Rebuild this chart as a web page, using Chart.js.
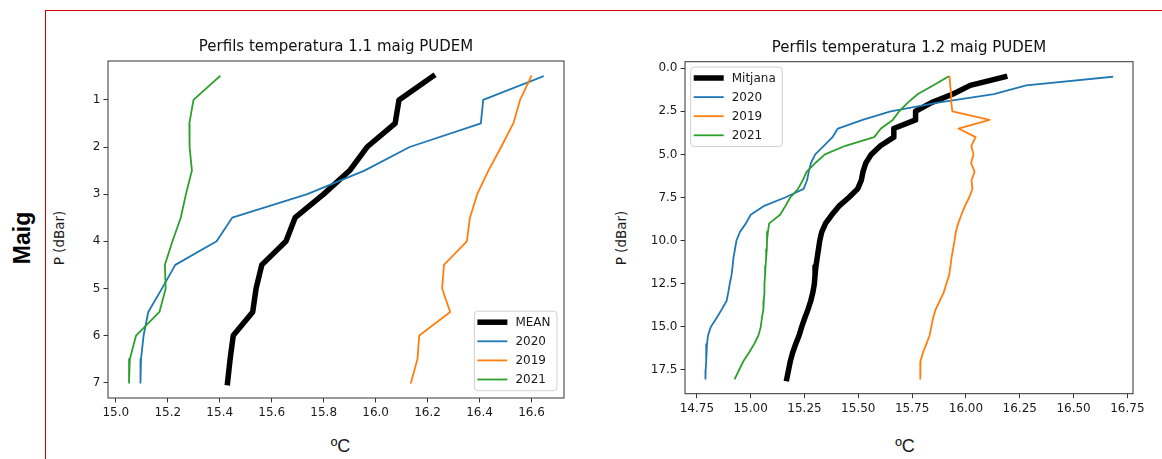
<!DOCTYPE html>
<html>
<head>
<meta charset="utf-8">
<script src="https://cdn.jsdelivr.net/npm/chart.js@4.4.1/dist/chart.umd.min.js"></script>
<style>
  html, body { margin: 0; padding: 0; background: #fff; }
  body { width: 1162px; height: 459px; position: relative; overflow: hidden; }
  .rule-h { position: absolute; left: 45px; top: 10px; width: 1117px; height: 1px; background: #cc0000; }
  .rule-v { position: absolute; left: 45px; top: 10px; width: 1px; height: 449px; background: #cc0000; }
  .lbl { position: absolute; white-space: nowrap; line-height: 1; color: #1a1a1a;
         transform: translate(-50%, -50%); }
  .rot { transform: translate(-50%, -50%) rotate(-90deg); }
  .month { font: bold 23px "Liberation Sans", Arial, sans-serif; color: #000; }
  .ylab { font: 13.5px "DejaVu Sans", sans-serif; }
  .xlab { font: 18px "Liberation Sans", Arial, sans-serif; }
  canvas { position: absolute; top: 0; }
</style>
</head>
<body>
<div class="rule-h"></div>
<div class="rule-v"></div>
<div class="lbl rot month" style="left:21.7px; top:238px;">Maig</div>
<div class="lbl rot ylab" style="left:59.3px; top:238px;">P (dBar)</div>
<div class="lbl rot ylab" style="left:620.7px; top:238px;">P (dBar)</div>
<div class="lbl xlab" style="left:340.5px; top:446px;">ºC</div>
<div class="lbl xlab" style="left:905px; top:446px;">ºC</div>
<canvas id="st11" width="554" height="459" style="left:46px;"></canvas>
<canvas id="st12" width="562" height="459" style="left:600px;"></canvas>
<script>
// ---- Station 1.1 (May) : pressure levels and temperature profiles ----
const title11 = 'Perfils temperatura 1.1 maig PUDEM';
const pressure11 = [0.5, 1, 1.5, 2, 2.5, 3, 3.5, 4, 4.5, 5, 5.5, 6, 6.5, 7];
const mean11 = [16.22, 16.09, 16.075, 15.967, 15.90, 15.80, 15.69, 15.655, 15.562, 15.54, 15.527, 15.452, 15.44, 15.43];
const t2020_11 = [16.644, 16.414, 16.405, 16.131, 15.957, 15.737, 15.448, 15.388, 15.229, 15.178, 15.125, 15.107, 15.097, 15.095];
const t2019_11 = [16.599, 16.556, 16.530, 16.483, 16.434, 16.391, 16.363, 16.351, 16.263, 16.256, 16.287, 16.168, 16.161, 16.136];
const t2021_11 = [15.400, 15.299, 15.283, 15.284, 15.293, 15.270, 15.250, 15.218, 15.189, 15.192, 15.168, 15.078, 15.054, 15.051];
const xTicks11 = [15.0, 15.2, 15.4, 15.6, 15.8, 16.0, 16.2, 16.4, 16.6];
const yTicks11 = [1, 2, 3, 4, 5, 6, 7];

// ---- Station 1.2 (May) ----
const title12 = 'Perfils temperatura 1.2 maig PUDEM';
const pressure12 = [0.5, 1, 1.5, 2, 2.5, 3, 3.5, 4, 4.5, 5, 5.5, 6, 6.5, 7, 7.5, 8, 8.5, 9,
                    9.5, 10, 10.5, 11, 11.5, 12, 12.5, 13, 13.5, 14, 14.5, 15, 15.5, 16, 16.5, 17, 17.5, 18];
const mean12 = [16.18, 16.02, 15.94, 15.84, 15.766, 15.766, 15.665, 15.665, 15.603, 15.56, 15.535, 15.522,
                15.514, 15.497, 15.456, 15.41, 15.377, 15.348, 15.33, 15.321, 15.315, 15.309, 15.303, 15.299,
                15.296, 15.289, 15.279, 15.266, 15.251, 15.237, 15.225, 15.209, 15.195, 15.184, 15.176, 15.168];
const t2020_12 = [16.68, 16.28, 16.13, 15.87, 15.65, 15.52, 15.405, 15.38, 15.34, 15.30, 15.28, 15.27,
                  15.262, 15.246, 15.16, 15.06, 15.00, 14.978, 14.95, 14.934, 14.927, 14.92, 14.916, 14.911,
                  14.903, 14.896, 14.888, 14.865, 14.841, 14.815, 14.802, 14.797, 14.794, 14.793, 14.791, 14.79];
const t2019_12 = [15.924, 15.927, 15.931, 15.932, 15.937, 16.11, 15.965, 16.045, 16.025, 16.035, 16.024, 16.04,
                  16.026, 16.03, 16.015, 15.995, 15.979, 15.964, 15.953, 15.947, 15.94, 15.933, 15.928, 15.922,
                  15.909, 15.897, 15.878, 15.859, 15.847, 15.839, 15.831, 15.816, 15.80, 15.789, 15.788, 15.788];
const t2021_12 = [15.917, 15.847, 15.777, 15.73, 15.69, 15.66, 15.605, 15.574, 15.44, 15.345, 15.30, 15.26,
                  15.242, 15.22, 15.184, 15.161, 15.137, 15.086, 15.08, 15.076, 15.075, 15.072, 15.069, 15.067,
                  15.064, 15.064, 15.061, 15.059, 15.052, 15.047, 15.036, 15.016, 14.992, 14.966, 14.946, 14.927];
const xTicks12 = [14.75, 15.0, 15.25, 15.5, 15.75, 16.0, 16.25, 16.5, 16.75];
const yTicks12 = [0, 2.5, 5, 7.5, 10, 12.5, 15, 17.5];

const COL = { mean: '#000000', y2020: '#1f77b4', y2019: '#ff7f0e', y2021: '#2ca02c' };

Chart.defaults.font.family = '"DejaVu Sans", sans-serif';
Chart.defaults.color = '#1a1a1a';

function profile(temps, press) {
  return press.map((p, i) => ({ x: temps[i], y: p }));
}

function series(label, temps, press, color, width, order) {
  return {
    label, data: profile(temps, press), borderColor: color, backgroundColor: color,
    borderWidth: width, showLine: true, pointRadius: 0, pointHoverRadius: 0,
    tension: 0, borderCapStyle: 'square', borderJoinStyle: 'round', order, fill: false
  };
}

// full rectangular frame around the plotting area
const framePlugin = {
  id: 'frame',
  afterDatasetsDraw(chart) {
    const { ctx, chartArea: a } = chart;
    ctx.save();
    ctx.strokeStyle = '#333';
    ctx.lineWidth = 1;
    ctx.strokeRect(a.left, a.top, a.right - a.left, a.bottom - a.top);
    ctx.restore();
  }
};

// framed legend placed inside the plotting area
const boxLegend = {
  id: 'boxLegend',
  afterDraw(chart, args, opts) {
    const { ctx, chartArea: a } = chart;
    ctx.save();
    ctx.font = '12px "DejaVu Sans"';
    const items = chart.data.datasets.map(d => ({ label: d.label, color: d.borderColor, width: d.borderWidth }));
    const textW = Math.max(...items.map(it => ctx.measureText(it.label).width));
    const w = 41 + textW + 6.5, h = 79.5, rowH = 19.1, firstRow = 11;
    const x = opts.loc === 'lower right' ? a.right - opts.padX - w : a.left + opts.padX;
    const y = opts.loc === 'lower right' ? a.bottom - opts.padY - h : a.top + opts.padY;
    const r = 3.5;
    ctx.beginPath();
    ctx.moveTo(x + r, y);
    ctx.lineTo(x + w - r, y); ctx.arcTo(x + w, y, x + w, y + r, r);
    ctx.lineTo(x + w, y + h - r); ctx.arcTo(x + w, y + h, x + w - r, y + h, r);
    ctx.lineTo(x + r, y + h); ctx.arcTo(x, y + h, x, y + h - r, r);
    ctx.lineTo(x, y + r); ctx.arcTo(x, y, x + r, y, r);
    ctx.closePath();
    ctx.fillStyle = 'rgba(255,255,255,0.8)';
    ctx.fill();
    ctx.strokeStyle = '#d0d0d0';
    ctx.lineWidth = 1;
    ctx.stroke();
    items.forEach((it, i) => {
      const cy = y + firstRow + i * rowH;
      ctx.beginPath();
      ctx.moveTo(x + 3, cy);
      ctx.lineTo(x + 33, cy);
      ctx.strokeStyle = it.color;
      ctx.lineWidth = it.width;
      ctx.lineCap = 'butt';
      ctx.stroke();
      ctx.fillStyle = '#1a1a1a';
      ctx.textBaseline = 'middle';
      ctx.textAlign = 'left';
      ctx.fillText(it.label, x + 41, cy + 0.5);
    });
    ctx.restore();
  }
};

function buildChart(id, cfg) {
  const tickFont = { size: 12 };
  return new Chart(document.getElementById(id), {
    type: 'scatter',
    data: { datasets: cfg.datasets },
    options: {
      responsive: false,
      animation: false,
      events: [],
      layout: { padding: { left: 0, right: cfg.padRight, top: 0, bottom: 0 } },
      plugins: {
        legend: { display: false },
        tooltip: { enabled: false },
        title: {
          display: true, text: cfg.title, fullSize: false, color: '#111',
          font: { size: 15, weight: 'normal', lineHeight: 1.2 },
          padding: { top: cfg.titleTop, bottom: cfg.titleBottom }
        },
        boxLegend: cfg.legend
      },
      scales: {
        x: {
          type: 'linear', position: 'bottom', min: cfg.xMin, max: cfg.xMax,
          afterBuildTicks: s => { s.ticks = cfg.xTicks.map(v => ({ value: v })); },
          afterFit: s => { s.height = cfg.xHeight; },
          ticks: { callback: v => v.toFixed(cfg.xDigits), font: tickFont, color: '#1a1a1a',
                   padding: 3, autoSkip: false, maxRotation: 0 },
          grid: { drawOnChartArea: false, drawTicks: true, tickLength: 4.5, color: '#333', lineWidth: 1 },
          border: { display: false }
        },
        y: {
          type: 'linear', position: 'left', reverse: true, min: cfg.yMin, max: cfg.yMax,
          afterBuildTicks: s => { s.ticks = cfg.yTicks.map(v => ({ value: v })); },
          afterFit: s => { s.width = cfg.yWidth; },
          ticks: { callback: v => v.toFixed(cfg.yDigits), font: tickFont, color: '#1a1a1a',
                   padding: 3, autoSkip: false },
          grid: { drawOnChartArea: false, drawTicks: true, tickLength: 4.5, color: '#333', lineWidth: 1 },
          border: { display: false }
        }
      }
    },
    plugins: [framePlugin, boxLegend]
  });
}

buildChart('st11', {
  title: title11, titleTop: 37.7, titleBottom: 5.3,
  padRight: 36, yWidth: 62, xHeight: 61,
  xMin: 14.97, xMax: 16.725, yMin: 0.175, yMax: 7.325,
  xTicks: xTicks11, yTicks: yTicks11, xDigits: 1, yDigits: 0,
  legend: { loc: 'lower right', padX: 7, padY: 7.3 },
  datasets: [
    series('MEAN', mean11, pressure11, COL.mean, 5.5, 4),
    series('2020', t2020_11, pressure11, COL.y2020, 1.8, 3),
    series('2019', t2019_11, pressure11, COL.y2019, 1.8, 2),
    series('2021', t2021_11, pressure11, COL.y2021, 1.8, 1)
  ]
});

buildChart('st12', {
  title: title12, titleTop: 39.3, titleBottom: 4.4,
  padRight: 29, yWidth: 85, xHeight: 65.3,
  xMin: 14.695, xMax: 16.776, yMin: -0.375, yMax: 18.875,
  xTicks: xTicks12, yTicks: yTicks12, xDigits: 2, yDigits: 1,
  legend: { loc: 'upper left', padX: 5.7, padY: 5.3 },
  datasets: [
    series('Mitjana', mean12, pressure12, COL.mean, 5.5, 4),
    series('2020', t2020_12, pressure12, COL.y2020, 1.8, 3),
    series('2019', t2019_12, pressure12, COL.y2019, 1.8, 2),
    series('2021', t2021_12, pressure12, COL.y2021, 1.8, 1)
  ]
});
</script>
</body>
</html>
